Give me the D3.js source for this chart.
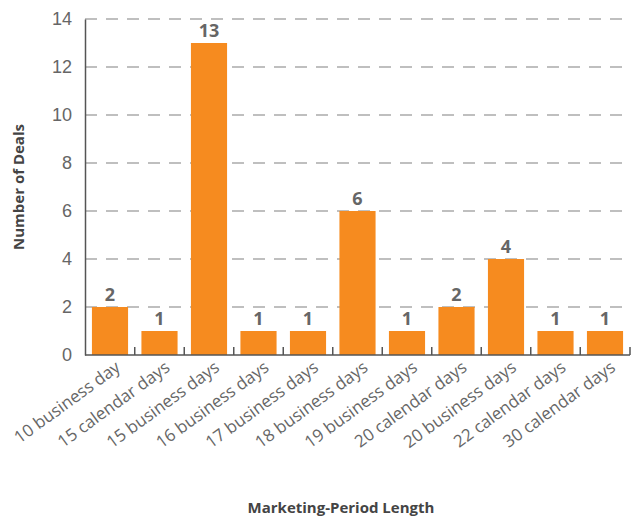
<!DOCTYPE html>
<html>
<head>
<meta charset="utf-8">
<script src="https://cdn.jsdelivr.net/npm/d3@7"></script>
<style>
  body { margin: 0; background: #fff; }
  svg { font-family: "Open Sans", "DejaVu Sans", sans-serif; }
</style>
</head>
<body>
<div id="container"></div>
<script>
const categories = ["10 business day", "15 calendar days", "15 business days", "16 business days",
  "17 business days", "18 business days", "19 business days", "20 calendar days",
  "20 business days", "22 calendar days", "30 calendar days"];
const deals = [2, 1, 13, 1, 1, 6, 1, 2, 4, 1, 1];
const yTicks = [0, 2, 4, 6, 8, 10, 12, 14];

const width = 632, height = 518;
const margin = {top: 19, right: 2, bottom: 163, left: 85};

const svg = d3.select("#container").append("svg")
  .attr("width", width)
  .attr("height", height);

const x = d3.scaleBand()
  .domain(categories)
  .range([margin.left, width - margin.right])
  .paddingInner(0.27)
  .paddingOuter(0.14);

const y = d3.scaleLinear()
  .domain([0, 14])
  .range([height - margin.bottom, margin.top]);

// gridlines
svg.append("g")
  .selectAll("line")
  .data(yTicks.filter(d => d > 0))
  .join("line")
  .attr("x1", margin.left)
  .attr("x2", width - margin.right)
  .attr("y1", d => y(d))
  .attr("y2", d => y(d))
  .attr("stroke", "#aaa")
  .attr("stroke-width", 1.5)
  .attr("stroke-dasharray", "12,9");

// y axis
const yAxis = svg.append("g")
  .attr("transform", `translate(${margin.left},0)`)
  .call(d3.axisLeft(y).tickValues(yTicks).tickSize(0).tickPadding(13));
yAxis.select(".domain").attr("stroke", "#555").attr("stroke-width", 1.5);
yAxis.selectAll("text")
  .attr("fill", "#666")
  .style("font-size", "18px")
  .style("font-weight", 300);

// bars
svg.append("g")
  .selectAll("rect")
  .data(deals)
  .join("rect")
  .attr("x", (d, i) => x(categories[i]))
  .attr("width", x.bandwidth())
  .attr("y", d => y(d))
  .attr("height", d => y(0) - y(d))
  .attr("fill", "#f68b1f");

// value labels
svg.append("g")
  .selectAll("text")
  .data(deals)
  .join("text")
  .attr("x", (d, i) => x(categories[i]) + x.bandwidth() / 2)
  .attr("y", d => y(d) - 6)
  .attr("text-anchor", "middle")
  .attr("fill", "#666")
  .style("font-size", "18px")
  .style("font-weight", 700)
  .text(d => d);

// x axis line and boundary ticks
const x0 = y(0);
svg.append("line")
  .attr("x1", margin.left)
  .attr("x2", width - margin.right)
  .attr("y1", x0)
  .attr("y2", x0)
  .attr("stroke", "#555")
  .attr("stroke-width", 1.5);

const step = x.step();
const bounds = categories.slice(1).map(c => x(c) - step * x.paddingInner() / 2);
svg.append("g")
  .selectAll("line")
  .data(bounds.concat([width - margin.right]))
  .join("line")
  .attr("x1", d => d)
  .attr("x2", d => d)
  .attr("y1", x0)
  .attr("y2", x0 - 8)
  .attr("stroke", "#555")
  .attr("stroke-width", 1.5);

// category labels
svg.append("g")
  .selectAll("text")
  .data(categories)
  .join("text")
  .attr("transform", d => `translate(${x(d) + x.bandwidth() / 2 + 8},${x0 + 10}) rotate(-36)`)
  .attr("text-anchor", "end")
  .attr("dy", "0.35em")
  .attr("fill", "#666")
  .style("font-size", "17px")
  .style("font-weight", 400)
  .text(d => d);

// axis titles
svg.append("text")
  .attr("transform", `translate(24,${(margin.top + x0) / 2}) rotate(-90)`)
  .attr("text-anchor", "middle")
  .attr("fill", "#444")
  .style("font-size", "15px")
  .style("font-weight", 700)
  .text("Number of Deals");

svg.append("text")
  .attr("x", 341)
  .attr("y", 513)
  .attr("text-anchor", "middle")
  .attr("fill", "#444")
  .style("font-size", "15px")
  .style("font-weight", 700)
  .text("Marketing-Period Length");
</script>
</body>
</html>
